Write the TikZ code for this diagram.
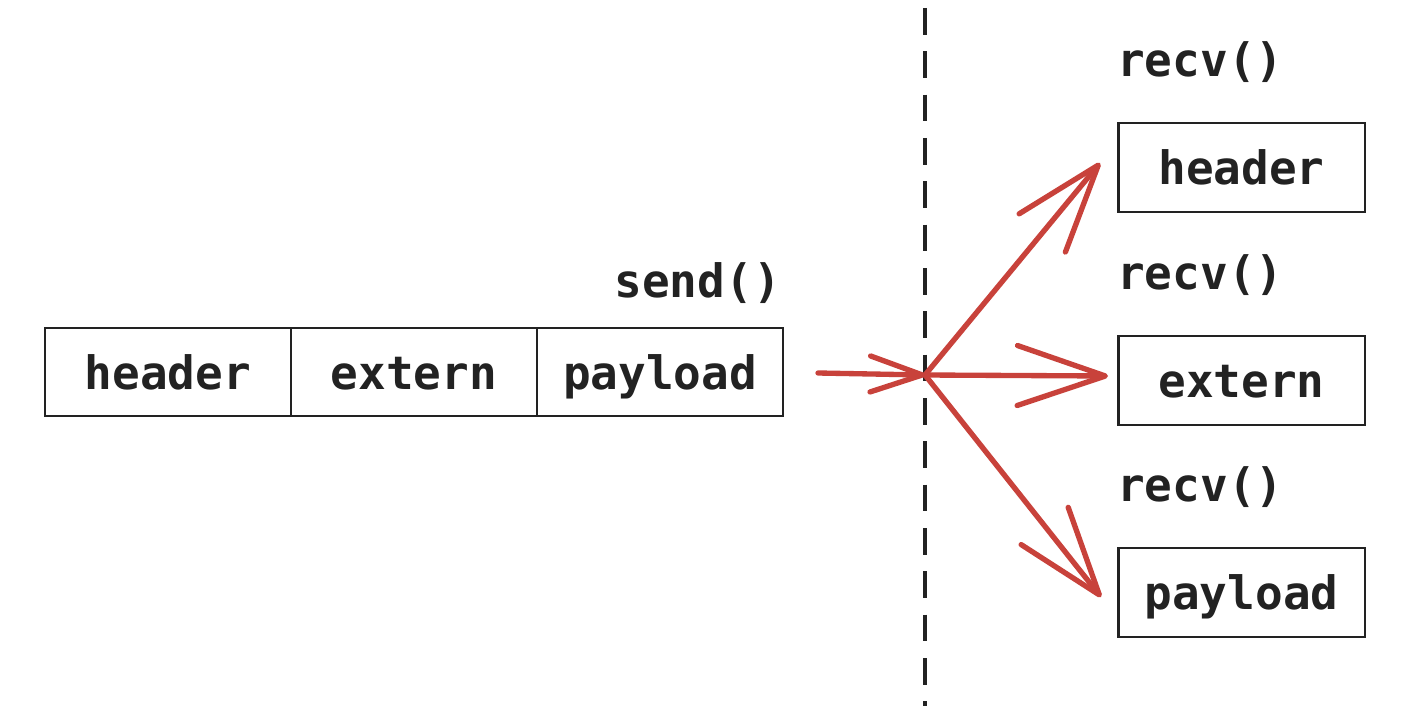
\documentclass[tikz,border=0pt]{standalone}
\usepackage{fontspec}
\setmonofont{DejaVu Sans Mono}
\usetikzlibrary{arrows.meta,calc}
\definecolor{ink}{HTML}{222222}
\definecolor{arrowred}{HTML}{C8423B}
\tikzset{
  lbl/.style={font=\ttfamily\bfseries\fontsize{34.5}{40}\selectfont, text=ink, inner sep=0pt},
  cell/.style={draw=ink, line width=2pt, minimum width=184.5pt, minimum height=66pt, inner sep=0pt, lbl, text height=26pt, text depth=0pt},
  rbox/.style={draw=ink, line width=2pt, minimum width=185pt, minimum height=66.75pt, inner sep=0pt, lbl, text height=26pt, text depth=0pt},
  flow/.style={draw=arrowred, line width=4pt, line cap=round},
  smalltip/.style={-{Straight Barb[length=39pt,width=27pt,round]}},
  bigtip/.style={-{Straight Barb[length=66pt,width=45pt,round]}},
}
\begin{document}
\begin{tikzpicture}[x=0.75pt,y=-0.75pt]
\useasboundingbox (0,0) rectangle (1406,706);
% boundary
\coordinate (dtop) at (925,8);
\coordinate (dbot) at (925,706);
\draw[ink, line width=3pt, dash pattern=on 20pt off 12.5pt] (dtop) -- (dbot);
% left message
\node[cell] (lh) at (168,372) {header};
\node[cell] (le) at (414,372) {extern};
\node[cell] (lp) at (660,372) {payload};
\node[lbl, anchor=east] (send) at (781,283) {send()};
% right boxes
\node[rbox] (rh) at (1241.5,167.5) {header};
\node[rbox] (re) at (1241.5,380.5) {extern};
\node[rbox] (rp) at (1241.5,592.5) {payload};
\node[lbl, anchor=west] (r1) at (1117,62) {recv()};
\node[lbl, anchor=west] (r2) at (1117,275) {recv()};
\node[lbl, anchor=west] (r3) at (1117,487) {recv()};
% arrows
\coordinate (src) at (818,373);
\coordinate (hub) at (925,375);
\coordinate (th) at (1100,163);
\coordinate (te) at (1108,376);
\coordinate (tp) at (1101,597);
\draw[flow, smalltip] (src) -- (hub);
\draw[flow, bigtip] (hub) -- (th);
\draw[flow, bigtip] (hub) -- (te);
\draw[flow, bigtip] (hub) -- (tp);
\end{tikzpicture}
\end{document}
